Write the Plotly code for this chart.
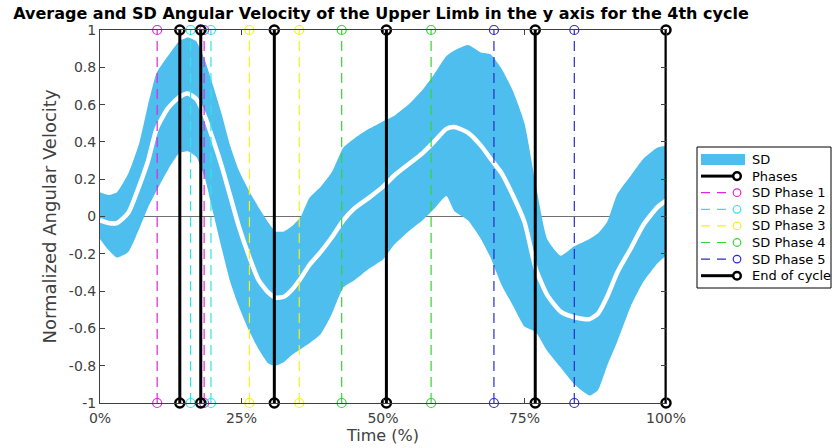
import plotly.graph_objects as go

# ---- data ----
time_pct = [0, 1.5, 3, 5, 7, 8.5, 10, 12, 14, 15.5, 17, 18.5, 20, 21.5, 23, 24.5, 26.3, 28, 29.8, 31,
            32.5, 34, 35.5, 37, 39, 41, 43, 45, 47.5, 50, 52, 54.5, 57, 59, 61.2, 62.6, 65, 67.3, 69, 71,
            73, 75, 77, 79, 81.4, 83.8, 86.5, 88, 89.6, 91.4, 93.8, 96, 98.5, 100]
sd_upper = [0.13, 0.115, 0.13, 0.23, 0.40, 0.60, 0.77, 0.86, 0.94, 0.96, 0.94, 0.84, 0.70, 0.55, 0.38, 0.25,
            0.14, 0.05, -0.035, -0.08, -0.08, -0.05, 0.0, 0.10, 0.16, 0.24, 0.37, 0.42, 0.47, 0.51, 0.54,
            0.60, 0.68, 0.76, 0.86, 0.89, 0.92, 0.88, 0.87, 0.79, 0.67, 0.50, 0.17, -0.12, -0.21, -0.16,
            -0.12, -0.09, -0.03, 0.12, 0.22, 0.31, 0.37, 0.38]
sd_lower = [-0.12, -0.18, -0.22, -0.19, -0.06, 0.05, 0.14, 0.25, 0.34, 0.35, 0.32, 0.21, 0.02, -0.17, -0.35,
            -0.48, -0.61, -0.71, -0.79, -0.80, -0.78, -0.74, -0.71, -0.68, -0.63, -0.52, -0.38, -0.34,
            -0.28, -0.23, -0.15, -0.08, -0.02, 0.04, 0.11, 0.03, -0.02, -0.12, -0.22, -0.37, -0.48, -0.59,
            -0.62, -0.72, -0.81, -0.90, -0.96, -0.93, -0.80, -0.67, -0.48, -0.35, -0.25, -0.21]
mean_vel = [-0.02, -0.035, -0.035, 0.02, 0.17, 0.30, 0.47, 0.58, 0.64, 0.66, 0.63, 0.54, 0.41, 0.27, 0.11,
            -0.05, -0.21, -0.34, -0.41, -0.435, -0.43, -0.39, -0.33, -0.26, -0.19, -0.11, -0.02, 0.045,
            0.10, 0.16, 0.22, 0.28, 0.34, 0.40, 0.47, 0.48, 0.45, 0.38, 0.31, 0.23, 0.11, -0.03, -0.28,
            -0.42, -0.51, -0.54, -0.55, -0.52, -0.43, -0.30, -0.17, -0.045, 0.05, 0.085]

phase_ends = [14.1, 17.8, 30.8, 50.6, 76.9]
sd_phase_names = ["SD Phase 1", "SD Phase 2", "SD Phase 3", "SD Phase 4", "SD Phase 5"]
sd_phase_bounds = [[10.1, 18.4], [16.0, 19.6], [26.4, 35.2], [42.7, 58.5], [69.6, 83.8]]
sd_phase_colors = ["#e026e0", "#2ee6e6", "#f2f21c", "#33d633", "#2a2ad0"]
end_of_cycle = [100]

legend_labels = ["SD", "Phases"] + sd_phase_names + ["End of cycle"]

x_tickvals = [0, 25, 50, 75, 100]
x_ticktext = ["0%", "25%", "50%", "75%", "100%"]
y_tickvals = [1, 0.8, 0.6, 0.4, 0.2, 0, -0.2, -0.4, -0.6, -0.8, -1]
y_ticktext = ["1", "0.8", "0.6", "0.4", "0.2", "0", "-0.2", "-0.4", "-0.6", "-0.8", "-1"]

SD_COLOR = "#4DBEEE"

# ---- layout geometry (pixels) ----
W, H = 832, 448
ML, MR, MT, MB = 100, 166, 30, 45
PW, PH = W - ML - MR, H - MT - MB


def px(x):
    return (x - ML) / PW


def py(y):
    return (H - MB - y) / PH


def stems(xs):
    xx, yy = [], []
    for v in xs:
        xx += [v, v, None]
        yy += [-1, 1, None]
    return xx, yy


fig = go.Figure()

# SD band (lower invisible, upper fills to it)
fig.add_trace(go.Scatter(x=time_pct, y=sd_lower, mode="lines",
                         line=dict(width=0, color=SD_COLOR, shape="spline", smoothing=0.5),
                         showlegend=False, hoverinfo="skip"))
fig.add_trace(go.Scatter(x=time_pct, y=sd_upper, mode="lines", fill="tonexty", fillcolor=SD_COLOR,
                         line=dict(width=0, color=SD_COLOR, shape="spline", smoothing=0.5),
                         name="SD", showlegend=False, hoverinfo="skip"))

# mean line (white)
fig.add_trace(go.Scatter(x=time_pct, y=mean_vel, mode="lines",
                         line=dict(color="white", width=4.5, shape="spline", smoothing=0.6),
                         showlegend=False))

# SD phase lines
for name, bounds, col in zip(sd_phase_names, sd_phase_bounds, sd_phase_colors):
    xx, yy = stems(bounds)
    fig.add_trace(go.Scatter(x=xx, y=yy, mode="lines+markers", name=name, showlegend=False,
                             line=dict(color=col, width=1.2, dash="10px,6px"),
                             marker=dict(symbol="circle-open", size=9, color=col, line=dict(width=1.2)),
                             cliponaxis=False))

# phase lines (black)
xx, yy = stems(phase_ends)
fig.add_trace(go.Scatter(x=xx, y=yy, mode="lines+markers", name="Phases", showlegend=False,
                         line=dict(color="black", width=3),
                         marker=dict(symbol="circle-open", size=9, color="black", line=dict(width=2.5)),
                         cliponaxis=False))

xx, yy = stems(end_of_cycle)
fig.add_trace(go.Scatter(x=xx, y=yy, mode="lines+markers", name="End of cycle", showlegend=False,
                         line=dict(color="black", width=3),
                         marker=dict(symbol="circle-open", size=9, color="black", line=dict(width=2.5)),
                         cliponaxis=False))

# ---- legend drawn by hand (MATLAB style) ----
shapes = []
annotations = []
box_l, box_r, box_t, box_b = 697, 831, 147, 288
shapes.append(dict(type="rect", xref="paper", yref="paper", x0=px(box_l), x1=px(box_r),
                   y0=py(box_b), y1=py(box_t), line=dict(color="black", width=1), fillcolor="white",
                   layer="below"))
row0, row_step = 159.5, 16.6
legend_styles = ([("patch", SD_COLOR), ("solid", "black")] +
                 [("dash", c) for c in sd_phase_colors] + [("solid", "black")])
for i, (lab, (kind, col)) in enumerate(zip(legend_labels, legend_styles)):
    yc = row0 + i * row_step
    if kind == "patch":
        shapes.append(dict(type="rect", xref="paper", yref="paper", x0=px(701), x1=px(745),
                           y0=py(yc + 5.5), y1=py(yc - 5.5), line=dict(width=0), fillcolor=col))
    else:
        lw = 3 if kind == "solid" else 1.2
        shapes.append(dict(type="line", xref="paper", yref="paper", x0=px(701), x1=px(733),
                           y0=py(yc), y1=py(yc),
                           line=dict(color=col, width=lw, dash="solid" if kind == "solid" else "9px,7px")))
        r = 3.8
        shapes.append(dict(type="circle", xref="paper", yref="paper", x0=px(737 - r), x1=px(737 + r),
                           y0=py(yc + r), y1=py(yc - r), fillcolor="white",
                           line=dict(color=col, width=2.5 if kind == "solid" else 1.2)))
    annotations.append(dict(text=lab, xref="paper", yref="paper", x=px(750), y=py(yc),
                            xanchor="left", yanchor="middle", showarrow=False,
                            font=dict(family="DejaVu Sans", size=13, color="black")))

axis_col = "#404040"
fig.update_layout(
    width=W, height=H,
    margin=dict(l=ML, r=MR, t=MT, b=MB, autoexpand=False),
    paper_bgcolor="white", plot_bgcolor="white",
    font=dict(family="DejaVu Sans", color=axis_col, size=14),
    title=dict(text="<b>Average and SD Angular Velocity of the Upper Limb in the y axis for the 4th cycle</b>",
               xref="container", x=381 / W, xanchor="center", yref="container", y=1 - 13 / H,
               yanchor="middle", font=dict(family="DejaVu Sans", size=16, color="black")),
    showlegend=False,
    shapes=shapes,
    annotations=annotations,
    xaxis=dict(range=[0, 100], tickvals=x_tickvals, ticktext=x_ticktext, automargin=False,
               ticks="inside", ticklen=5, tickcolor=axis_col, showgrid=False, zeroline=False,
               showline=True, linecolor=axis_col, linewidth=1, mirror="allticks",
               ticklabelstandoff=2,
               title=dict(text="Time (%)", standoff=4, font=dict(size=16, color=axis_col))),
    yaxis=dict(range=[-1, 1], tickvals=y_tickvals, ticktext=y_ticktext, automargin=False,
               ticks="inside", ticklen=5, tickcolor=axis_col, showgrid=False,
               zeroline=True, zerolinecolor="#707070", zerolinewidth=1,
               showline=True, linecolor=axis_col, linewidth=1, mirror="allticks",
               title=dict(text="Normalized Angular Velocity", standoff=7, font=dict(size=18, color=axis_col))),
)

fig.write_html("out.html")
